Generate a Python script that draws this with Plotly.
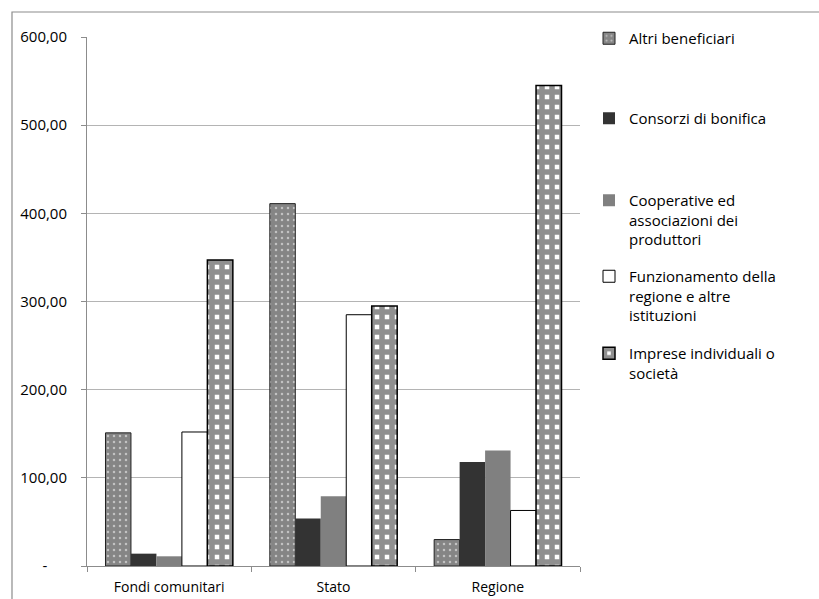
import plotly.graph_objects as go

categories = ["Fondi comunitari", "Stato", "Regione"]
altri = [151, 411, 30]
consorzi = [14, 54, 118]
cooperative = [11, 79, 131]
funzionamento = [152, 285, 63]
imprese = [347, 295, 545]

series_names = [
    "Altri beneficiari",
    "Consorzi di bonifica",
    "Cooperative ed<br>associazioni dei<br>produttori",
    "Funzionamento della<br>regione e altre<br>istituzioni",
    "Imprese individuali o<br>società",
]
tick_vals = [0, 100, 200, 300, 400, 500, 600]
tick_text = ["-" + "\u2007\u2007\u2009", "100,00", "200,00", "300,00", "400,00", "500,00", "600,00"]

FONT = "Open Sans"
fig = go.Figure()

styles = [
    dict(color="#888888", line=dict(color="#222", width=1),
         pattern=dict(shape=".", fgcolor="white", bgcolor="#858585", size=6, solidity=0.14)),
    dict(color="#333333", line=dict(width=0)),
    dict(color="#808080", line=dict(width=0)),
    dict(color="white", line=dict(color="black", width=1)),
    dict(color="white", line=dict(color="black", width=1.5),
         pattern=dict(shape="+", fgcolor="#222222", bgcolor="white", size=10, solidity=0.8)),
]
values = [altri, consorzi, cooperative, funzionamento, imprese]
legend_ids = ["legend", "legend2", "legend3", "legend4", "legend5"]

for name, vals, st, lg in zip(series_names, values, styles, legend_ids):
    fig.add_trace(go.Bar(x=categories, y=vals, name=name, marker=st, legend=lg))

# plot area pixel geometry
L, R, T, B = 87, 239, 37, 33
W = 819 - L - R
H = 599 - T - B

def px_x(px):
    return (px - L) / W

def px_y(py):
    return (599 - B - py) / H

legend_tops = [22, 102, 184, 260, 337]
legend_common = dict(
    xanchor="left", yanchor="top", bgcolor="rgba(0,0,0,0)",
    font=dict(family=FONT, size=15, color="black"),
    valign="top", itemwidth=30, tracegroupgap=0,
)
layout_legends = {}
for lg, top in zip(legend_ids, legend_tops):
    layout_legends[lg] = dict(x=px_x(589), y=px_y(top), **legend_common)

fig.update_layout(
    width=819, height=599,
    margin=dict(l=L, r=R, t=T, b=B, autoexpand=False),
    paper_bgcolor="white", plot_bgcolor="white",
    barmode="group", bargap=0.225, bargroupgap=0,
    font=dict(family=FONT, size=14, color="black"),
    showlegend=True,
    **layout_legends,
    shapes=[dict(type="rect", xref="paper", yref="paper",
                 x0=px_x(12), x1=px_x(830), y0=px_y(610), y1=px_y(12),
                 line=dict(color="#8c8c8c", width=1.2), fillcolor="rgba(0,0,0,0)", layer="below")],
)
fig.update_xaxes(
    showline=True, linecolor="#8c8c8c", linewidth=1, automargin=False,
    ticks="outside", ticklen=5, tickcolor="#8c8c8c", tickson="boundaries",
    showgrid=False, tickfont=dict(family=FONT, size=14), ticklabelstandoff=8,
)
fig.update_yaxes(
    range=[0, 600], tickvals=tick_vals, ticktext=tick_text, automargin=False,
    showline=True, linecolor="#8c8c8c", linewidth=1,
    ticks="outside", ticklen=5, tickcolor="#8c8c8c",
    showgrid=True, gridcolor="#b4b4b4", gridwidth=1, zeroline=False,
    tickfont=dict(family=FONT, size=15), ticklabelstandoff=11,
)

fig.write_html("out.html", config={"displayModeBar": False},
               post_script="document.body.style.margin='0';")
